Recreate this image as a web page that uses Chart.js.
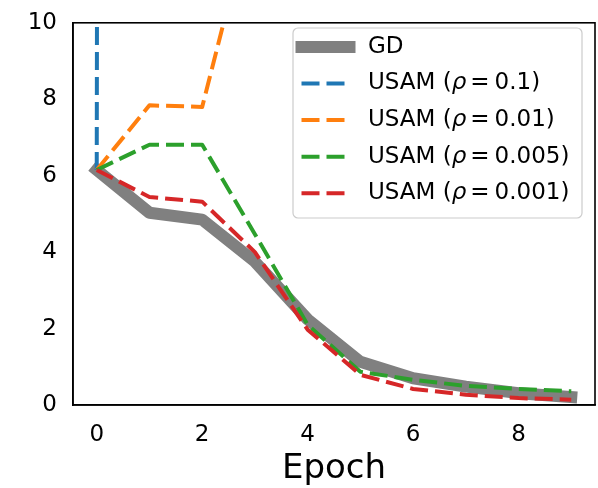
<!DOCTYPE html>
<html lang="en">
<head>
    <meta charset="UTF-8">
    <title>GD vs USAM</title>
    <script src="https://cdn.jsdelivr.net/npm/chart.js"></script>
    <style>
        html, body { margin: 0; padding: 0; background: #fff; }
        #wrap { width: 598px; height: 488px; }
    </style>
</head>
<body>
    <div id="wrap"><canvas id="lossChart"></canvas></div>

    <script>
        // values
        const epochs = [0, 1, 2, 3, 4, 5, 6, 7, 8, 9];
        const gdLoss = [6.15, 5.03, 4.85, 3.75, 2.24, 1.13, 0.70, 0.48, 0.31, 0.21];
        const usam01 = [6.15, 10000];               // diverges immediately
        const usam001 = [6.15, 7.84, 7.80, 13.2];   // leaves the plot after epoch 2
        const usam0005 = [6.15, 6.81, 6.81, 4.47, 2.10, 0.87, 0.66, 0.50, 0.42, 0.36];
        const usam0001 = [6.15, 5.44, 5.32, 4.00, 1.97, 0.79, 0.42, 0.27, 0.18, 0.14];
        const seriesLabels = ['GD', '0.1', '0.01', '0.005', '0.001'];
        const xTicks = [0, 2, 4, 6, 8];
        const yTicks = [0, 2, 4, 6, 8, 10];

        const FONT = 'DejaVu Sans';

        function pts(arr) {
            return arr.map((v, i) => ({ x: epochs[i], y: v }));
        }

        function dashed(label, data, color, order) {
            return {
                label: label,
                data: pts(data),
                borderColor: color,
                borderWidth: 4,
                borderDash: [18, 7],
                borderCapStyle: 'butt',
                borderJoinStyle: 'round',
                pointRadius: 0,
                tension: 0,
                fill: false,
                clip: 0,
                order: order
            };
        }

        // black box around the plot + legend in the upper right
        const framePlugin = {
            id: 'frame',
            afterDatasetsDraw(chart) {
                const { ctx, chartArea: a } = chart;
                ctx.save();
                ctx.strokeStyle = '#000';
                ctx.lineWidth = 1.6;
                ctx.strokeRect(a.left, a.top, a.right - a.left, a.bottom - a.top);
                ctx.restore();
            },
            afterDraw(chart) {
                const ctx = chart.ctx;
                const ds = chart.data.datasets;
                const bx = 293, by = 28, bw = 289, bh = 190, r = 5;
                ctx.save();
                ctx.beginPath();
                ctx.moveTo(bx + r, by);
                ctx.arcTo(bx + bw, by, bx + bw, by + bh, r);
                ctx.arcTo(bx + bw, by + bh, bx, by + bh, r);
                ctx.arcTo(bx, by + bh, bx, by, r);
                ctx.arcTo(bx, by, bx + bw, by, r);
                ctx.closePath();
                ctx.fillStyle = 'rgba(255,255,255,0.8)';
                ctx.fill();
                ctx.strokeStyle = '#cccccc';
                ctx.lineWidth = 1.2;
                ctx.stroke();

                const rowY = [47, 83.5, 120, 156.7, 193.3];
                ds.forEach((d, i) => {
                    const y = rowY[i];
                    ctx.beginPath();
                    ctx.strokeStyle = d.borderColor;
                    ctx.lineWidth = d.borderWidth;
                    ctx.lineCap = d.borderCapStyle;
                    ctx.setLineDash(d.borderDash || []);
                    ctx.moveTo(301.5, y);
                    ctx.lineTo(349.5, y);
                    ctx.stroke();
                    ctx.setLineDash([]);

                    ctx.fillStyle = '#000';
                    ctx.textBaseline = 'middle';
                    let x = 368;
                    if (i === 0) {
                        ctx.font = '23px ' + FONT;
                        ctx.fillText(d.label, x, y);
                        return;
                    }
                    const parts = [
                        ['USAM (', 'normal', 0],
                        ['\u03c1', 'italic', 4],
                        ['=', 'normal', 5],
                        [d.label + ')', 'normal', 0]
                    ];
                    parts.forEach(p => {
                        ctx.font = p[1] + ' 23px ' + FONT;
                        ctx.fillText(p[0], x, y);
                        x += ctx.measureText(p[0]).width + p[2];
                    });
                });
                ctx.restore();
            }
        };

        const ctx = document.getElementById('lossChart').getContext('2d');
        new Chart(ctx, {
            type: 'line',
            data: {
                datasets: [
                    {
                        label: seriesLabels[0],
                        data: pts(gdLoss),
                        borderColor: '#808080',
                        borderWidth: 12,
                        borderCapStyle: 'square',
                        borderJoinStyle: 'round',
                        pointRadius: 0,
                        tension: 0,
                        fill: false,
                        clip: 0,
                        order: 5
                    },
                    dashed(seriesLabels[1], usam01, '#1f77b4', 4),
                    dashed(seriesLabels[2], usam001, '#ff7f0e', 3),
                    dashed(seriesLabels[3], usam0005, '#2ca02c', 2),
                    dashed(seriesLabels[4], usam0001, '#d62728', 1)
                ]
            },
            options: {
                responsive: true,
                maintainAspectRatio: false,
                animation: false,
                layout: { padding: { left: 0, top: 17, right: 3, bottom: 0 } },
                plugins: {
                    legend: { display: false },
                    tooltip: { enabled: false }
                },
                scales: {
                    x: {
                        type: 'linear',
                        min: -0.45,
                        max: 9.45,
                        afterBuildTicks: s => { s.ticks = xTicks.map(v => ({ value: v })); },
                        afterFit: s => { s.height = 83; },
                        grid: { display: false, drawTicks: true, tickLength: 7, tickColor: '#000', tickWidth: 1.6 },
                        border: { display: true, color: '#000', width: 1.6 },
                        ticks: { color: '#000', padding: 9, font: { family: FONT, size: 23 }, maxRotation: 0 },
                        title: {
                            display: true,
                            text: 'Epoch',
                            color: '#000',
                            font: { family: FONT, size: 34, lineHeight: 1 },
                            padding: { top: 0, bottom: 2 }
                        }
                    },
                    y: {
                        min: 0,
                        max: 10,
                        afterBuildTicks: s => { s.ticks = yTicks.map(v => ({ value: v })); },
                        afterFit: s => { s.width = 73; },
                        grid: { display: false, drawTicks: true, tickLength: 7, tickColor: '#000', tickWidth: 1.6 },
                        border: { display: true, color: '#000', width: 1.6 },
                        ticks: { color: '#000', padding: 9, font: { family: FONT, size: 23 } }
                    }
                }
            },
            plugins: [framePlugin]
        });
    </script>
</body>
</html>
